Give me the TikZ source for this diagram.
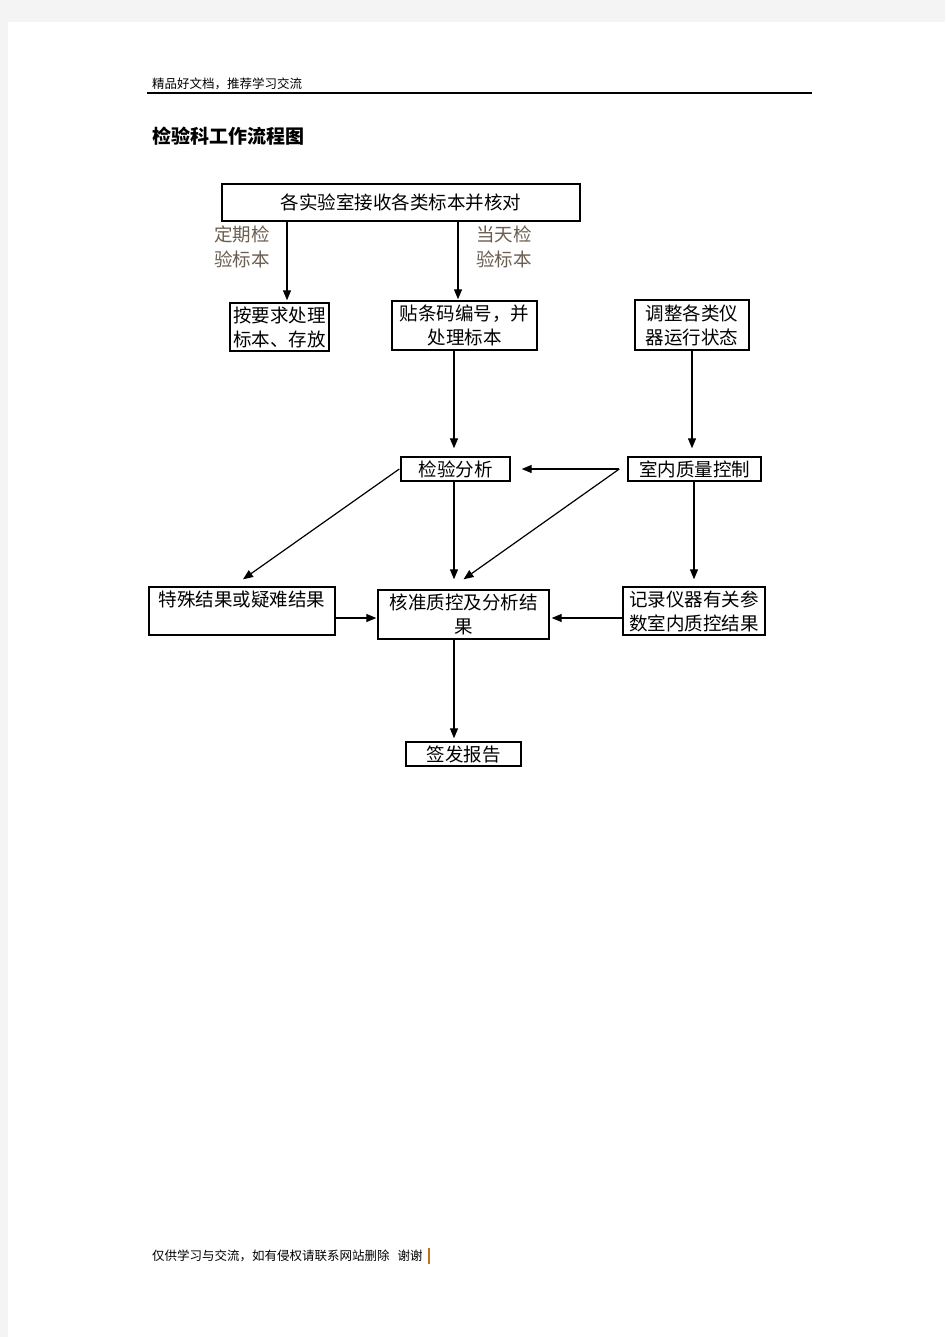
\documentclass[tikz,border=0pt]{standalone}
\usepackage{fontspec}
\setmainfont{Noto Sans CJK SC}
\usetikzlibrary{arrows.meta}
\definecolor{pagegray}{HTML}{F4F4F4}
\definecolor{lblcol}{HTML}{6B5D50}
\definecolor{cursorcol}{HTML}{C07020}
\newcommand\bxfont{\fontsize{18.5}{24}\selectfont}
\newcommand\lbfont{\fontsize{18.5}{25}\selectfont}
\newcommand\smfont{\fontsize{12.5}{14}\selectfont}
\newcommand\ttlfont{\fontsize{19}{22}\selectfont\bfseries}
\begin{document}
\begin{tikzpicture}[x=1pt,y=-1pt,
  box/.style n args={2}{draw,line width=1.4pt,inner sep=0pt,minimum width=#1,minimum height=#2,align=center,font=\bxfont},
  lbl/.style={inner sep=0pt,align=center,font=\lbfont,text=lblcol},
  plain/.style={inner sep=0pt,anchor=west},
  arr/.style={line width=1.2pt,-{Triangle[length=10pt,width=8pt]}}]
\fill[pagegray] (0,0) rectangle (945,1337);
\fill[white] (8,22) rectangle (945,1337);
\useasboundingbox (0,0) rectangle (945,1337);

% header
\node[plain,font=\smfont] (hdr) at (152,84) {精品好文档，推荐学习交流};
\draw[line width=1.2pt] (147,93) -- (812,93);
\node[plain,font=\ttlfont] (ttl) at (152,136) {检验科工作流程图};

% boxes
\node[box={358pt}{37pt}] (b1) at (401,202.5) {各实验室接收各类标本并核对};
\node[box={99pt}{48pt}] (b2) at (279.5,327) {按要求处理\\标本、存放};
\node[box={145pt}{49pt}] (b3) at (464.5,325.5) {贴条码编号，并\\处理标本};
\node[box={114pt}{50pt}] (b4) at (692,325) {调整各类仪\\器运行状态};
\node[box={109pt}{24pt}] (b5) at (455.5,469) {检验分析};
\node[box={133pt}{24pt}] (b6) at (694.5,469) {室内质量控制};
\node[box={186pt}{48pt}] (b7) at (242,611) {};
\node[inner sep=0pt,font=\bxfont] (t7) at ([yshift=-13pt]b7.north) {特殊结果或疑难结果};
\node[box={171pt}{49pt}] (b8) at (463.5,614.5) {核准质控及分析结\\果};
\node[box={142pt}{48pt}] (b9) at (694,611) {记录仪器有关参\\数室内质控结果};
\node[box={115pt}{24pt}] (b10) at (463.5,754) {签发报告};

% labels
\node[lbl] (l1) at (242,246.5) {定期检\\验标本};
\node[lbl] (l2) at (504,246.5) {当天检\\验标本};

% helper coordinates
\coordinate (x287) at (287,0);
\coordinate (x458) at (458,0);
\coordinate (x454) at (454,0);
\coordinate (yh) at (0,618);
\coordinate (q) at ([xshift=-8pt]b6.west);

% connectors
\draw[arr,shorten >=2pt] (b1.south -| x287) -- (b2.north -| x287);
\draw[arr,shorten >=1pt] (b1.south -| x458) -- (b3.north -| x458);
\draw[arr,shorten >=8pt] (b3.south -| x454) -- (b5.north -| x454);
\draw[arr,shorten >=8pt] (b4.south) -- (b4.south |- b6.north);
\draw[arr,shorten >=11pt] (q) -- (b5.east);
\draw[arr] (q) -- ([yshift=10pt]b8.north);
\draw[arr] ([xshift=-1pt]b5.west) -- ([xshift=1pt,yshift=7pt]b7.north);
\draw[arr,shorten >=10pt] (b5.south -| x454) -- (b8.north -| x454);
\draw[arr,shorten >=7pt] (b6.south -| b9.north) -- (b9.north);
\draw[arr,shorten >=1pt] (b7.east |- yh) -- (b8.west |- yh);
\draw[arr,shorten >=2pt] (b9.west |- yh) -- (b8.east |- yh);
\draw[arr,shorten >=3pt] (b8.south -| x454) -- (b10.north -| x454);

% footer
\node[plain,font=\smfont] (ftr) at (152,1256) {仅供学习与交流，如有侵权请联系网站删除\hspace{8pt}谢谢};
\fill[cursorcol] (427.5,1248) rectangle (429.5,1264);
\end{tikzpicture}
\end{document}
